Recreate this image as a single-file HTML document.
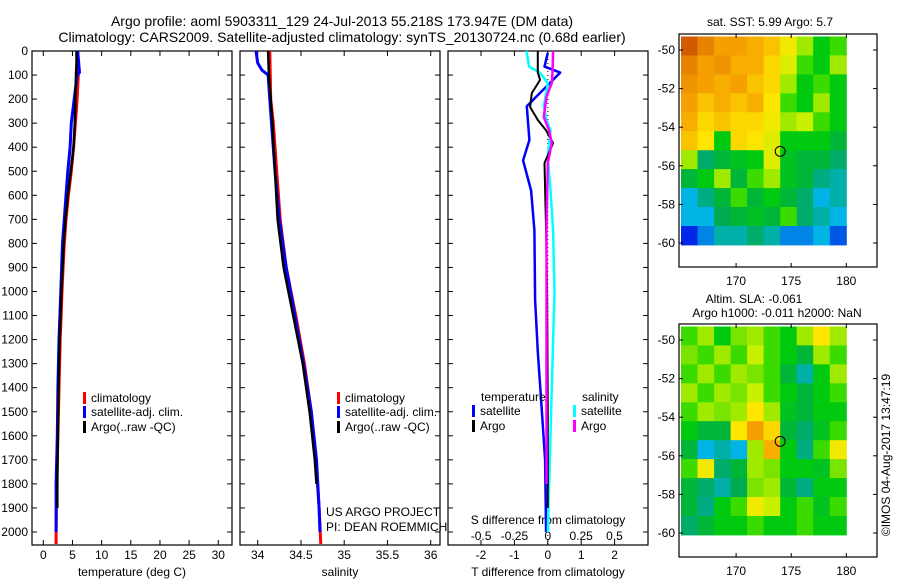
<!DOCTYPE html>
<html><head><meta charset="utf-8"><style>
body{margin:0;background:#fff;}
svg{display:block;font-family:"Liberation Sans",sans-serif;}
</style></head><body>
<svg id="c" width="900" height="580" xmlns="http://www.w3.org/2000/svg"></svg>
<script>
// ---- data ----
const depthTicks=[0,100,200,300,400,500,600,700,800,900,1000,1100,1200,1300,1400,1500,1600,1700,1800,1900,2000];
const tempTicks=[0,5,10,15,20,25,30];
const salTicks=[34,34.5,35,35.5,36];
const salTickLabels=["34","34.5","35","35.5","36"];
const tdiffTicks=[-2,-1,0,1,2];
const sdiffTicks=[-0.5,-0.25,0,0.25,0.5];
const sdiffTickLabels=["-0.5","-0.25","0","0.25","0.5"];
const tClimD=[0,100,200,300,400,500,600,700,800,900,1000,1200,1400,1600,1800,2000,2050];
const tClimV=[5.9,6.0,5.8,5.5,5.2,4.8,4.3,3.9,3.6,3.4,3.2,2.9,2.7,2.5,2.3,2.2,2.2];
const tArgoD=[0,50,100,200,300,400,500,600,700,800,1000,1200,1400,1600,1800,1900];
const tArgoV=[5.7,5.7,5.6,5.5,5.4,5.2,4.7,4.2,3.8,3.5,3.1,2.8,2.6,2.5,2.4,2.4];
const tSatD=[0,90,100,200,300,400,500,600,700,800,1000,1200,1400,1600,1800,2000];
const tSatV=[5.9,6.2,5.8,5.3,4.8,4.6,4.2,3.9,3.6,3.3,3.0,2.7,2.5,2.4,2.2,2.2];
const sClimD=[0,200,300,400,500,700,900,1100,1300,1500,1700,1900,2050];
const sClimV=[34.14,34.15,34.18,34.2,34.22,34.26,34.33,34.44,34.54,34.62,34.67,34.71,34.73];
const sArgoD=[0,100,300,500,700,900,1100,1300,1500,1700,1800];
const sArgoV=[34.12,34.13,34.17,34.2,34.23,34.3,34.41,34.52,34.6,34.66,34.68];
const sSatD=[0,50,80,100,200,300,500,700,900,1100,1300,1500,1700,1900,2000];
const sSatV=[33.98,34.0,34.05,34.12,34.14,34.16,34.2,34.25,34.33,34.43,34.53,34.62,34.68,34.71,34.72];
const dtSatD=[8,65,90,230,370,455,580,745,1035,1250,1450,1700,2000];
const dtSatV=[0,-0.1,0.37,-0.63,-0.55,-0.74,-0.5,-0.4,-0.38,-0.3,-0.2,-0.08,-0.05];
const dtArgoD=[0,90,120,175,233,287,330,383,466,745,1000,1500,1900];
const dtArgoV=[-0.3,-0.3,-0.23,-0.48,-0.53,-0.3,-0.05,0.16,-0.1,-0.05,-0.02,0.0,0.0];
const dsSatD=[0,65,90,133,230,287,330,440,580,745,1000,1400,2000];
const dsSatV=[-0.16,-0.14,-0.06,0,-0.03,-0.01,0.02,0,0.02,0.04,0.05,0.03,0.0];
const dsArgoD=[0,90,133,190,275,330,383,466,745,1200,1800];
const dsArgoV=[0.04,0.035,0.03,-0.01,-0.03,0.01,0.03,0,-0.01,-0.01,-0.01];
const lonTicks=[170,175,180];
const latTicks=[-50,-52,-54,-56,-58,-60];
const sstGrid=[
[.92,.85,.8,.8,.78,.75,.68,.6,.5,.55],
[.85,.8,.82,.78,.78,.72,.65,.55,.5,.6],
[.82,.8,.78,.8,.75,.72,.6,.5,.55,.5],
[.8,.75,.78,.75,.78,.7,.55,.5,.6,.5],
[.78,.72,.75,.72,.72,.68,.6,.62,.55,.5],
[.75,.7,.5,.72,.7,.65,.5,.5,.5,.45],
[.6,.4,.45,.48,.5,.65,.48,.45,.45,.4],
[.45,.5,.6,.45,.55,.6,.48,.45,.38,.35],
[.3,.38,.45,.55,.45,.5,.45,.4,.3,.35],
[.3,.3,.42,.45,.48,.45,.55,.4,.35,.3],
[.15,.25,.35,.35,.4,.35,.25,.25,.3,.2]];
const slaGrid=[
[.55,.6,.5,.58,.6,.55,.5,.6,.7,.6],
[.58,.55,.6,.55,.62,.55,.5,.45,.6,.55],
[.55,.6,.55,.6,.58,.55,.45,.35,.5,.6],
[.6,.55,.6,.58,.62,.55,.5,.45,.5,.55],
[.55,.6,.58,.6,.7,.6,.48,.45,.5,.5],
[.5,.45,.45,.7,.8,.72,.45,.4,.48,.55],
[.45,.3,.35,.3,.6,.78,.5,.38,.55,.68],
[.55,.68,.4,.45,.6,.58,.5,.5,.48,.58],
[.45,.4,.35,.42,.58,.6,.45,.38,.5,.5],
[.45,.38,.5,.55,.68,.62,.5,.55,.48,.55],
[.4,.45,.5,.5,.55,.5,.5,.55,.5,.5]];
const floatLon=174.0, floatLat=-55.25;

// ---- helpers ----
const NS="http://www.w3.org/2000/svg";const svg=document.getElementById('c');
function mk(t,a,p){const e=document.createElementNS(NS,t);for(const k in a)e.setAttribute(k,a[k]);(p||svg).appendChild(e);return e;}
function tx(x,y,s,anchor,size,p){const e=mk('text',{x:x,y:y,'text-anchor':anchor||'middle','font-size':size||12,fill:'#000'},p);e.textContent=s;return e;}
const yD=d=>51+d*0.2405;
const PT=51, PB=545;
const xT=v=>43.3+v*5.833;
const xS=v=>257.7+(v-34)*86.5;
const xDT=v=>547.8+v*33.4;
const xDS=v=>547.8+v*133.4;
function stepPath(D,V,fx){let s='';for(let i=0;i<D.length;i++){s+=(i?'L':'M')+fx(V[i]).toFixed(1)+' '+yD(D[i]).toFixed(1);}return s;}
function frame(x0,x1,name){
  const g=mk('g',{});
  mk('rect',{x:x0,y:PT,width:x1-x0,height:PB-PT,fill:'none',stroke:'#000','stroke-width':1.2},g);return g;}
function depthTickMarks(g,x0,x1,labels){depthTicks.forEach(d=>{const y=yD(d);mk('line',{x1:x0,y1:y,x2:x0+5,y2:y,stroke:'#000'},g);mk('line',{x1:x1-5,y1:y,x2:x1,y2:y,stroke:'#000'},g);
 if(labels){const t=tx(x0-4,y+4,String(d),'end',12,g);}});}
function xTicks(g,vals,labs,fx,ty){vals.forEach((v,i)=>{const x=fx(v);mk('line',{x1:x,y1:PB,x2:x,y2:PB-5,stroke:'#000'},g);mk('line',{x1:x,y1:PT,x2:x,y2:PT+5,stroke:'#000'},g);if(ty){const t=tx(x,ty,labs[i],'middle',12,g);}});}
function line(g,D,V,fx,col,w,name){const p=mk('path',{d:stepPath(D,V,fx),fill:'none',stroke:col,'stroke-width':w,'stroke-linejoin':'round'},g);}
function legendEntry(g,x,y,col,label){const b=mk('rect',{x:x,y:y-10,width:3,height:12,fill:col},g);const t=tx(x+8,y,label,'start',12,g);}

// titles
let t=tx(342,26,'Argo profile: aoml 5903311_129 24-Jul-2013 55.218S 173.947E (DM data)','middle',14);
t=tx(342,42,'Climatology: CARS2009. Satellite-adjusted climatology: synTS_20130724.nc (0.68d earlier)','middle',14);

// panel 1
let g=frame(32,232,'temperature-panel');depthTickMarks(g,32,232,true);xTicks(g,tempTicks,tempTicks.map(String),xT,559);
t=tx(132,576,'temperature (deg C)','middle',12,g);
line(g,tClimD,tClimV,xT,'#f00',3,'temperature-climatology-line');
line(g,tSatD,tSatV,xT,'#00f',3,'temperature-satellite-line');
line(g,tArgoD,tArgoV,xT,'#000',2.5,'temperature-argo-line');
legendEntry(g,83,402,'#f00','climatology');legendEntry(g,83,416,'#00f','satellite-adj. clim.');legendEntry(g,83,431,'#000','Argo(..raw -QC)');

// panel 2
g=frame(240,440,'salinity-panel');depthTickMarks(g,240,440,false);xTicks(g,salTicks,salTickLabels,xS,559);
t=tx(340,576,'salinity','middle',12,g);
line(g,sClimD,sClimV,xS,'#f00',3,'salinity-climatology-line');
line(g,sSatD,sSatV,xS,'#00f',3,'salinity-satellite-line');
line(g,sArgoD,sArgoV,xS,'#000',2.5,'salinity-argo-line');
legendEntry(g,337,402,'#f00','climatology');legendEntry(g,337,416,'#00f','satellite-adj. clim.');legendEntry(g,337,431,'#000','Argo(..raw -QC)');
tx(326,516,'US ARGO PROJECT','start',12,g);
tx(326,531,'PI: DEAN ROEMMICH','start',12,g);

// panel 3
g=frame(448,648,'difference-panel');depthTickMarks(g,448,648,false);xTicks(g,tdiffTicks,tdiffTicks.map(String),xDT,559);
mk('line',{x1:547.8,y1:PT,x2:547.8,y2:PB,stroke:'#000','stroke-dasharray':'1 3'},g);
sdiffTicks.forEach((v,i)=>{const s=tx(xDS(v),540,sdiffTickLabels[i],'middle',12,g);});
t=tx(548,524,'S difference from climatology','middle',12,g);
t=tx(548,576,'T difference from climatology','middle',12,g);
line(g,dtSatD,dtSatV,xDT,'#00f',2.5,'t-diff-satellite-line');
line(g,dsSatD,dsSatV,xDS,'#0ff',2.5,'s-diff-satellite-line');
line(g,dtArgoD,dtArgoV,xDT,'#000',2,'t-diff-argo-line');
line(g,dsArgoD,dsArgoV,xDS,'#f0f',2.5,'s-diff-argo-line');
t=tx(481,401,'temperature','start',12,g);
t=tx(582,401,'salinity','start',12,g);
legendEntry(g,472,415,'#00f','satellite');legendEntry(g,472,430,'#000','Argo');
legendEntry(g,573,415,'#0ff','satellite');legendEntry(g,573,430,'#f0f','Argo');

// maps
function jet(v){const stops=[[0,[0,0,140]],[0.15,[0,40,230]],[0.3,[0,180,230]],[0.42,[0,170,80]],[0.52,[0,210,0]],[0.62,[200,240,0]],[0.7,[255,230,0]],[0.8,[245,160,0]],[0.92,[210,90,0]],[1,[150,20,0]]];
 for(let i=1;i<stops.length;i++){if(v<=stops[i][0]){const a=stops[i-1],b=stops[i],f=(v-a[0])/(b[0]-a[0]);return 'rgb('+a[1].map((c,k)=>Math.round(c+(b[1][k]-c)*f)).join(',')+')';}}return 'rgb(150,20,0)';}
function map(top,grid,name,titles){
  const mg=mk('g',{});
  const lx=v=>681+(v-165)*11.02, ly=v=>top+16+(-50-v)*19.3;
  const nr=grid.length,nc=grid[0].length,lon0=165,lon1=180,lat0=-49.3,lat1=-60.1;
  for(let r=0;r<nr;r++)for(let c=0;c<nc;c++){
    const x0=lx(lon0+(lon1-lon0)*c/nc),x1=lx(lon0+(lon1-lon0)*(c+1)/nc),y0=ly(lat0+(lat1-lat0)*r/nr),y1=ly(lat0+(lat1-lat0)*(r+1)/nr);
    const cell=mk('rect',{x:x0.toFixed(1),y:y0.toFixed(1),width:(x1-x0+0.5).toFixed(1),height:(y1-y0+0.5).toFixed(1),fill:jet(grid[r][c])},mg);
    }
  mk('rect',{x:679,y:top,width:198,height:233,fill:'none',stroke:'#000','stroke-width':1.2},mg);
  lonTicks.forEach(v=>{const x=lx(v);mk('line',{x1:x,y1:top,x2:x,y2:top+4,stroke:'#000'},mg);mk('line',{x1:x,y1:top+233,x2:x,y2:top+229,stroke:'#000'},mg);const l=tx(x,top+251,String(v),'middle',12,mg);});
  latTicks.forEach(v=>{const y=ly(v);mk('line',{x1:679,y1:y,x2:683,y2:y,stroke:'#000'},mg);mk('line',{x1:877,y1:y,x2:873,y2:y,stroke:'#000'},mg);const l=tx(675,y+4,String(v),'end',12,mg);});
  const m=mk('circle',{cx:lx(floatLon),cy:ly(floatLat),r:5,fill:'none',stroke:'#000','stroke-width':1},mg);
  titles.forEach((s,i)=>{const l=tx(s[1],s[2],s[0],'middle',12,mg);});
}
map(34,sstGrid,'sst-map',[['sat. SST: 5.99 Argo: 5.7',770,26]]);
map(324,slaGrid,'sla-map',[['Altim. SLA: -0.061',754,303],['Argo h1000: -0.011 h2000: NaN',777,317]]);
t=tx(0,0,'©IMOS 04-Aug-2017 13:47:19','middle',12);t.setAttribute('transform','translate(890,455) rotate(-90)');
</script>
</body></html>
